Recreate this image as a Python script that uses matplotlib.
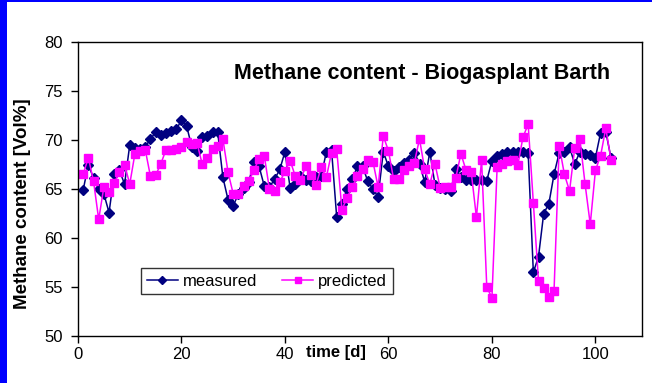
import matplotlib
matplotlib.use("Agg")
import matplotlib.pyplot as plt
from matplotlib.patches import Rectangle

plt.rcParams['font.family'] = ['Liberation Sans', 'DejaVu Sans']

days = list(range(1, 104))
measured = [64.9, 67.5, 66.1, 65.0, 64.5, 62.6, 66.5, 66.9, 65.5, 69.5,
            69.2, 69.05, 69.3, 70.1, 70.8, 70.5, 70.7, 70.95, 71.1, 72.0,
            71.4, 69.3, 68.9, 70.3, 70.4, 70.8, 70.8, 66.2, 63.9, 63.3,
            64.5, 65.1, 65.7, 67.8, 67.3, 65.3, 65.2, 66.0, 67.0, 68.8,
            65.1, 65.5, 66.3, 65.9, 65.8, 66.2, 66.3, 68.8, 69.0, 62.1,
            63.5, 65.0, 66.0, 67.3, 67.3, 65.8, 65.0, 64.2, 68.8, 67.3,
            66.8, 67.2, 67.7, 68.0, 68.7, 67.6, 65.7, 68.8, 65.4, 65.1,
            65.0, 64.8, 67.0, 66.2, 65.9, 65.9, 65.9, 65.9, 65.85, 67.9,
            68.4, 68.6, 68.8, 68.8, 68.8, 68.8, 68.7, 56.5, 58.1, 62.5,
            63.5, 66.5, 68.7, 68.8, 69.25, 67.55, 68.8, 68.6, 68.5, 68.2,
            70.75, 70.85, 68.2]
predicted = [66.5, 68.2, 65.8, 61.9, 65.2, 64.7, 65.6, 66.7, 67.5, 65.5,
             68.6, 68.9, 69.0, 66.3, 66.4, 67.55, 69.0, 69.0, 69.1, 69.3,
             69.8, 69.6, 69.7, 67.55, 68.2, 69.1, 69.4, 70.1, 66.7, 64.5,
             64.5, 65.3, 65.8, 66.9, 68.1, 68.4, 64.97, 64.8, 65.7, 66.8,
             67.9, 66.3, 65.9, 67.3, 66.4, 65.4, 67.2, 66.2, 68.7, 69.05,
             62.9, 64.1, 65.2, 66.3, 67.0, 68.0, 67.8, 65.2, 70.4, 68.9,
             66.0, 66.0, 66.9, 67.35, 67.7, 70.1, 67.0, 65.5, 67.55, 65.1,
             65.2, 65.2, 66.1, 68.6, 66.9, 66.7, 62.1, 68.0, 55.0, 53.9,
             67.2, 67.6, 67.9, 68.0, 67.45, 70.3, 71.6, 63.6, 55.6, 54.9,
             54.0, 54.6, 69.4, 66.5, 64.8, 69.2, 70.1, 65.5, 61.4, 66.9,
             68.4, 71.2, 68.0]

x_ticks = [0, 20, 40, 60, 80, 100]
y_ticks = [50, 55, 60, 65, 70, 75, 80]
title = "Methane content - Biogasplant Barth"
xlabel = "time [d]"
ylabel = "Methane content [Vol%]"

W, H = 652, 383
fig = plt.figure(figsize=(W / 100, H / 100), dpi=100)
fig.patch.set_facecolor('white')
fig.add_artist(Rectangle((0, 0), 7 / W, 1, transform=fig.transFigure,
                         facecolor='#0000FF', edgecolor='none', zorder=0))
fig.add_artist(Rectangle((0, 1 - 2 / H), 1, 2 / H, transform=fig.transFigure,
                         facecolor='#0000FF', edgecolor='none', zorder=0))

left, right, top, bottom = 78, 642, 42, 336
ax = fig.add_axes([left / W, 1 - bottom / H, (right - left) / W, (bottom - top) / H])
ax.plot(days, measured, color='#000080', marker='D', markersize=5, linewidth=1.1,
        label='measured')
ax.plot(days, predicted, color='#FF00FF', marker='s', markersize=5.5, linewidth=1.1,
        label='predicted')
ax.set_xlim(0, 109)
ax.set_ylim(50, 80)
ax.set_xticks(x_ticks)
ax.set_yticks(y_ticks)
ax.tick_params(axis='both', labelsize=12, length=5, width=1, color='black')
ax.tick_params(axis='y', pad=6)
ax.tick_params(axis='x', pad=3)
for s in ax.spines.values():
    s.set_linewidth(1)
    s.set_color('black')

leg = ax.legend(loc='lower left', bbox_to_anchor=(0.112, 0.143), ncol=2,
                fontsize=12, frameon=True, fancybox=False, borderaxespad=0,
                handlelength=1.9, columnspacing=1.45, borderpad=0.32,
                handletextpad=0.3)
leg.get_frame().set_edgecolor('black')
leg.get_frame().set_linewidth(1)
for h in leg.legend_handles:
    h.set_markersize(4.5)

fig.text(422 / W, 1 - 74 / H, title, fontsize=15.5, fontweight='bold',
         ha='center', va='center')
fig.text(336 / W, 1 - 352 / H, xlabel, fontsize=12, fontweight='bold',
         ha='center', va='center')
fig.text(23 / W, 1 - 204 / H, ylabel, fontsize=13.5, fontweight='bold',
         ha='center', va='center', rotation=90)

fig.savefig('out.png', dpi=100)
